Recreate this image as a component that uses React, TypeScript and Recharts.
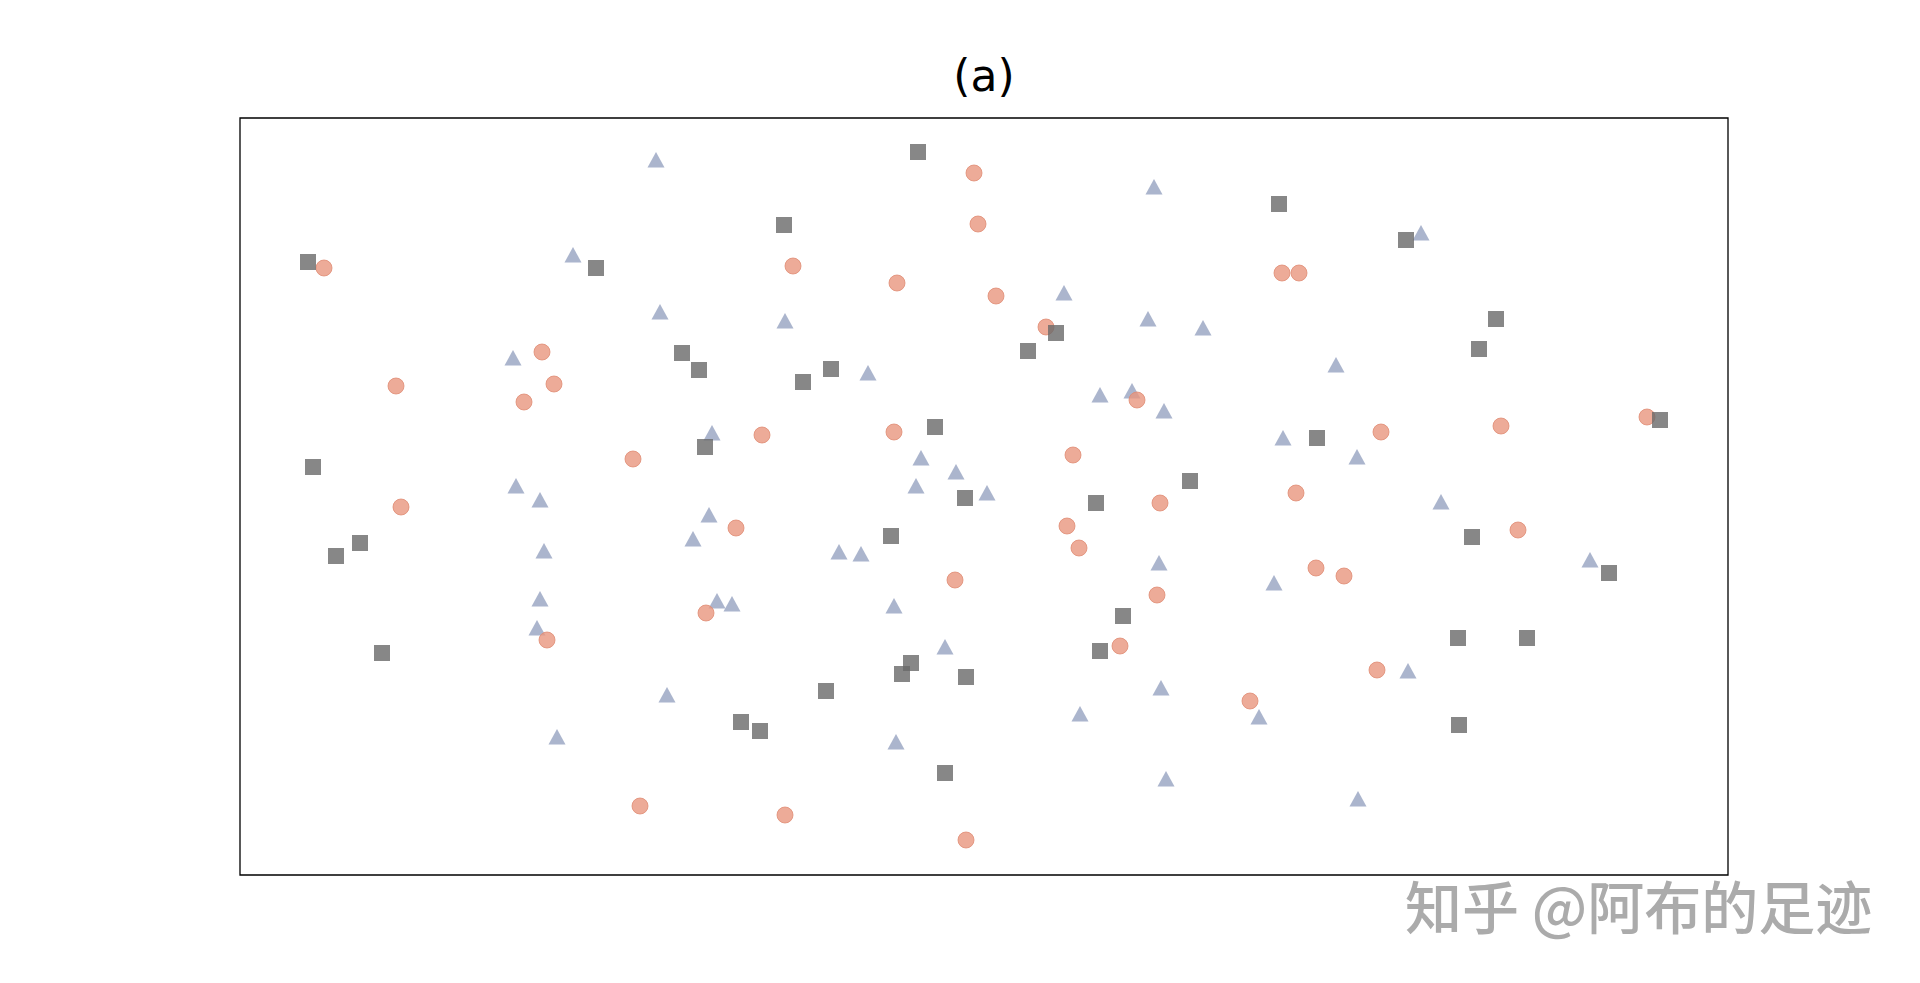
import { ScatterChart, Scatter, XAxis, YAxis, ReferenceArea } from 'recharts'

// points: [x, y], x from the left edge, y from the bottom edge of the box
const circles: [number, number][] = [
  [84, 607], [302, 523], [156, 489], [314, 491], [284, 473], [393, 416], [161, 368], [496, 347],
  [466, 262], [307, 235], [400, 69], [734, 702], [738, 651], [553, 609], [657, 592], [756, 579],
  [806, 548], [897, 475], [522, 440], [654, 443], [833, 420], [920, 372], [1042, 602], [1059, 602],
  [1407, 458], [1261, 449], [1141, 443], [1056, 382], [715, 295], [827, 349], [839, 327], [917, 280],
  [880, 229], [1010, 174], [545, 60], [726, 35], [1278, 345], [1076, 307], [1104, 299], [1137, 205],
]

const squares: [number, number][] = [
  [68, 613], [356, 607], [442, 522], [459, 505], [465, 428], [73, 408], [678, 723], [544, 650],
  [816, 542], [788, 524], [591, 506], [563, 493], [695, 448], [725, 377], [856, 372], [950, 394],
  [1039, 671], [1166, 635], [1256, 556], [1239, 526], [1420, 455], [1077, 437], [120, 332], [96, 319],
  [142, 222], [501, 153], [651, 339], [883, 259], [860, 224], [671, 212], [662, 201], [726, 198],
  [586, 184], [520, 144], [705, 102], [1232, 338], [1369, 302], [1218, 237], [1287, 237], [1219, 150],
]

const triangles: [number, number][] = [
  [416, 715], [333, 620], [420, 563], [273, 517], [472, 442], [276, 389], [300, 375], [469, 360],
  [914, 688], [824, 582], [545, 554], [908, 556], [963, 547], [628, 502], [860, 480], [892, 484],
  [924, 464], [681, 417], [716, 403], [676, 389], [747, 382], [1181, 642], [1096, 510], [1043, 437],
  [1117, 418], [1201, 373], [304, 324], [453, 336], [300, 276], [477, 274], [492, 271], [297, 247],
  [427, 180], [317, 138], [599, 323], [621, 321], [919, 312], [654, 269], [705, 228], [921, 187],
  [840, 161], [656, 133], [926, 96], [1350, 315], [1034, 292], [1168, 204], [1019, 158], [1118, 76],
]

const xMax = 1488
const yMax = 757

const toRows = (pts: [number, number][]) => pts.map(([x, y]) => ({ x, y }))

const Dot = (p: any) => (
  <circle cx={p.cx} cy={p.cy} r={8} fill="#e8967e" fillOpacity={0.8} stroke="#e08a72" strokeWidth={0.8} />
)

const Box = (p: any) => (
  <rect x={p.cx - 8} y={p.cy - 8} width={16} height={16} fill="#696969" fillOpacity={0.8} />
)

const Tri = (p: any) => (
  <polygon
    points={`${p.cx},${p.cy - 8} ${p.cx - 8.5},${p.cy + 7.5} ${p.cx + 8.5},${p.cy + 7.5}`}
    fill="#8896b8"
    fillOpacity={0.7}
  />
)

export default function App() {
  return (
    <div style={{ position: 'relative', width: 1904, height: 967 }}>
      <div
        style={{
          position: 'absolute',
          left: 976,
          top: 46,
          transform: 'translateX(-50%)',
          fontFamily: '"DejaVu Sans", sans-serif',
          fontSize: 44,
          lineHeight: '44px',
          color: '#000',
        }}
      >
        (a)
      </div>
      <ScatterChart width={1904} height={967} margin={{ top: 110, right: 184, bottom: 100, left: 232 }}>
        <XAxis type="number" dataKey="x" domain={[0, xMax]} hide />
        <YAxis type="number" dataKey="y" domain={[0, yMax]} hide />
        <ReferenceArea x1={0} x2={xMax} y1={0} y2={yMax} fill="none" stroke="#000" strokeWidth={1.3} />
        <Scatter data={toRows(triangles)} shape={Tri} isAnimationActive={false} />
        <Scatter data={toRows(circles)} shape={Dot} isAnimationActive={false} />
        <Scatter data={toRows(squares)} shape={Box} isAnimationActive={false} />
      </ScatterChart>
      <div
        style={{
          position: 'absolute',
          left: 1397,
          top: 868,
          fontFamily: '"Noto Sans CJK SC", sans-serif',
          fontSize: 57,
          lineHeight: '57px',
          fontWeight: 500,
          color: '#ababab',
          whiteSpace: 'nowrap',
        }}
      >
        知乎 @阿布的足迹
      </div>
    </div>
  )
}
